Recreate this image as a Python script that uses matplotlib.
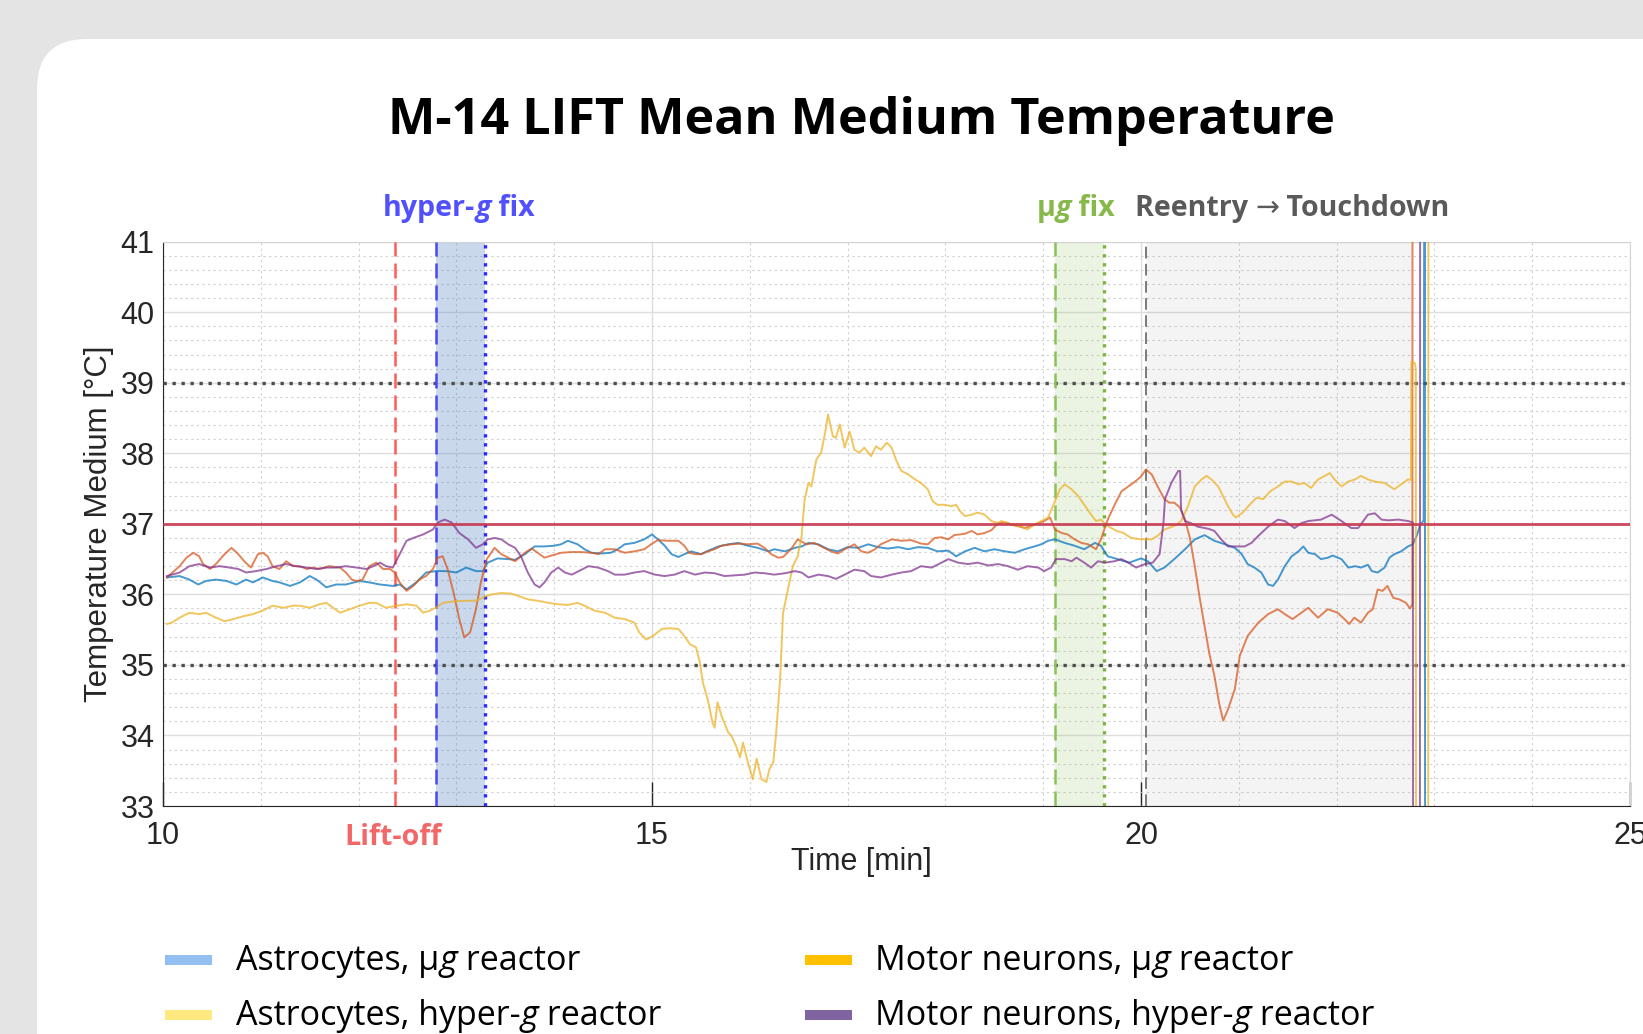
import matplotlib
matplotlib.use("Agg")
import matplotlib.pyplot as plt
from matplotlib.patches import FancyBboxPatch, Rectangle
from matplotlib.transforms import IdentityTransform
from matplotlib.ticker import MultipleLocator

W, H = 1643, 1034

# --- data (time in min, temperature in degC) ---
t_astro_ug = [10.04, 10.17, 10.27, 10.36, 10.44, 10.54, 10.65, 10.75, 10.85, 10.92,
              11.02, 11.12, 11.19, 11.30, 11.40, 11.50, 11.57, 11.67, 11.77, 11.87,
              12.01, 12.11, 12.22, 12.35, 12.42, 12.49, 12.59, 12.69, 12.79, 12.90,
              13.00, 13.10, 13.20, 13.27, 13.32, 13.42, 13.53, 13.60, 13.70, 13.80,
              13.90, 14.00, 14.07, 14.14, 14.24, 14.31, 14.38, 14.48, 14.58, 14.65,
              14.72, 14.82, 14.92, 15.00, 15.06, 15.13, 15.20, 15.27, 15.33, 15.40,
              15.50, 15.61, 15.68, 15.78, 15.88, 15.98, 16.08, 16.19, 16.25, 16.36,
              16.46, 16.53, 16.60, 16.70, 16.80, 16.90, 17.00, 17.11, 17.21, 17.31,
              17.41, 17.52, 17.62, 17.72, 17.82, 17.92, 18.03, 18.11, 18.20, 18.30,
              18.40, 18.50, 18.61, 18.71, 18.81, 18.91, 18.98, 19.05, 19.12, 19.22,
              19.32, 19.42, 19.53, 19.59, 19.66, 19.76, 19.88, 20.00, 20.07, 20.16,
              20.24, 20.34, 20.45, 20.55, 20.65, 20.75, 20.86, 20.96, 21.03, 21.09,
              21.16, 21.23, 21.30, 21.35, 21.40, 21.47, 21.54, 21.61, 21.66, 21.71,
              21.78, 21.84, 21.91, 21.96, 22.05, 22.12, 22.19, 22.25, 22.32, 22.36,
              22.42, 22.49, 22.54, 22.59, 22.66, 22.73, 22.78, 22.82, 22.85, 22.89,
              22.902, 22.906]
v_astro_ug = [36.24, 36.26, 36.21, 36.14, 36.19, 36.21, 36.19, 36.14, 36.21, 36.17,
              36.24, 36.19, 36.17, 36.12, 36.17, 36.26, 36.21, 36.10, 36.14, 36.14,
              36.19, 36.17, 36.14, 36.12, 36.14, 36.07, 36.17, 36.31, 36.33, 36.33,
              36.31, 36.38, 36.33, 36.33, 36.45, 36.51, 36.50, 36.49, 36.57, 36.68,
              36.68, 36.69, 36.71, 36.76, 36.71, 36.64, 36.59, 36.58, 36.59, 36.64,
              36.71, 36.73, 36.78, 36.85, 36.78, 36.69, 36.57, 36.53, 36.57, 36.61,
              36.57, 36.64, 36.68, 36.71, 36.73, 36.69, 36.66, 36.61, 36.64, 36.61,
              36.66, 36.68, 36.73, 36.71, 36.64, 36.61, 36.67, 36.66, 36.71, 36.67,
              36.65, 36.67, 36.64, 36.67, 36.66, 36.61, 36.62, 36.54, 36.61, 36.66,
              36.61, 36.64, 36.61, 36.59, 36.64, 36.68, 36.71, 36.76, 36.78, 36.73,
              36.69, 36.64, 36.73, 36.69, 36.54, 36.50, 36.45, 36.51, 36.47, 36.33,
              36.38, 36.50, 36.64, 36.78, 36.84, 36.76, 36.71, 36.66, 36.57, 36.43,
              36.38, 36.31, 36.14, 36.12, 36.21, 36.40, 36.54, 36.61, 36.68, 36.59,
              36.57, 36.50, 36.52, 36.55, 36.50, 36.38, 36.40, 36.38, 36.42, 36.33,
              36.31, 36.38, 36.52, 36.57, 36.61, 36.68, 36.71, 36.83, 36.97, 37.05,
              45.0, 25.0]

t_astro_hg = [10.04, 10.17, 10.24, 10.31, 10.37, 10.41, 10.48, 10.54, 10.63, 10.70,
              10.77, 10.83, 10.90, 10.97, 11.02, 11.07, 11.12, 11.19, 11.26, 11.33,
              11.40, 11.47, 11.53, 11.60, 11.70, 11.81, 11.87, 11.93, 11.98, 12.04,
              12.11, 12.18, 12.25, 12.32, 12.37, 12.42, 12.49, 12.56, 12.62, 12.69,
              12.76, 12.81, 12.86, 12.91, 12.97, 13.03, 13.08, 13.14, 13.20, 13.25,
              13.31, 13.39, 13.46, 13.53, 13.60, 13.70, 13.77, 13.83, 13.90, 13.97,
              14.07, 14.17, 14.28, 14.38, 14.45, 14.52, 14.62, 14.72, 14.82, 14.92,
              14.99, 15.06, 15.16, 15.27, 15.33, 15.38, 15.44, 15.50, 15.57, 15.64,
              15.71, 15.81, 15.91, 15.98, 16.08, 16.15, 16.22, 16.29, 16.34, 16.42,
              16.49, 16.58, 16.66, 16.73, 16.83, 16.90, 16.97, 17.07, 17.14, 17.21,
              17.28, 17.34, 17.45, 17.55, 17.65, 17.75, 17.82, 17.89, 17.96, 18.03,
              18.09, 18.20, 18.27, 18.33, 18.40, 18.47, 18.54, 18.61, 18.71, 18.81,
              18.91, 19.01, 19.07, 19.12, 19.19, 19.25, 19.32, 19.39, 19.46, 19.54,
              19.59, 19.66, 19.73, 19.80, 19.87, 19.94, 20.00, 20.05, 20.11, 20.17,
              20.24, 20.29, 20.34, 20.40, 20.45, 20.50, 20.55, 20.60, 20.65, 20.70,
              20.75, 20.80, 20.84, 20.89, 20.96, 21.01, 21.09, 21.20, 21.30, 21.40,
              21.47, 21.55, 21.64, 21.71, 21.81, 21.91, 22.01, 22.08, 22.13, 22.18,
              22.25, 22.32, 22.37, 22.42, 22.47, 22.52, 22.58, 22.64, 22.71, 22.75,
              22.775, 22.777]
v_astro_hg = [36.24, 36.40, 36.52, 36.59, 36.54, 36.43, 36.36, 36.43, 36.57, 36.66,
              36.57, 36.47, 36.38, 36.57, 36.59, 36.54, 36.40, 36.36, 36.47, 36.40,
              36.40, 36.36, 36.38, 36.36, 36.40, 36.38, 36.31, 36.21, 36.19, 36.21,
              36.40, 36.45, 36.36, 36.36, 36.31, 36.17, 36.05, 36.12, 36.21, 36.26,
              36.36, 36.52, 36.54, 36.36, 36.03, 35.65, 35.39, 35.46, 35.79, 36.17,
              36.50, 36.66, 36.57, 36.52, 36.47, 36.59, 36.65, 36.59, 36.52, 36.55,
              36.59, 36.60, 36.60, 36.59, 36.57, 36.64, 36.64, 36.59, 36.61, 36.64,
              36.71, 36.77, 36.76, 36.76, 36.69, 36.59, 36.57, 36.57, 36.61, 36.64,
              36.69, 36.71, 36.72, 36.71, 36.72, 36.66, 36.57, 36.52, 36.53, 36.64,
              36.78, 36.71, 36.73, 36.68, 36.61, 36.58, 36.64, 36.71, 36.61, 36.59,
              36.64, 36.71, 36.78, 36.76, 36.77, 36.72, 36.71, 36.80, 36.81, 36.78,
              36.84, 36.86, 36.90, 36.85, 36.87, 36.91, 37.01, 37.02, 36.98, 36.94,
              36.99, 37.04, 37.09, 36.92, 36.87, 36.85, 36.78, 36.73, 36.71, 36.64,
              36.78, 37.06, 37.27, 37.46, 37.53, 37.60, 37.67, 37.77, 37.70, 37.53,
              37.35, 37.30, 37.30, 37.23, 37.06, 36.80, 36.40, 35.95, 35.55, 35.15,
              34.85, 34.45, 34.21, 34.37, 34.66, 35.13, 35.41, 35.60, 35.72, 35.79,
              35.72, 35.65, 35.74, 35.81, 35.67, 35.79, 35.74, 35.65, 35.58, 35.67,
              35.60, 35.74, 35.79, 36.07, 36.05, 36.12, 35.95, 35.93, 35.88, 35.80,
              35.86, 45.0]

t_mn_ug = [10.04, 10.09, 10.17, 10.27, 10.37, 10.44, 10.54, 10.63, 10.72, 10.82,
           10.92, 11.02, 11.12, 11.23, 11.33, 11.40, 11.50, 11.60, 11.67, 11.74,
           11.81, 11.91, 12.01, 12.11, 12.18, 12.28, 12.39, 12.49, 12.59, 12.66,
           12.73, 12.79, 12.86, 12.97, 13.10, 13.20, 13.31, 13.36, 13.46, 13.56,
           13.63, 13.73, 13.83, 13.94, 14.04, 14.14, 14.24, 14.31, 14.41, 14.52,
           14.62, 14.72, 14.82, 14.87, 14.94, 15.01, 15.10, 15.18, 15.27, 15.33,
           15.39, 15.45, 15.49, 15.52, 15.57, 15.62, 15.64, 15.67, 15.71, 15.78,
           15.81, 15.86, 15.90, 15.93, 15.98, 16.03, 16.07, 16.12, 16.17, 16.20,
           16.24, 16.27, 16.31, 16.34, 16.39, 16.44, 16.49, 16.53, 16.56, 16.60,
           16.63, 16.68, 16.73, 16.77, 16.80, 16.85, 16.88, 16.92, 16.97, 17.02,
           17.07, 17.12, 17.17, 17.24, 17.29, 17.34, 17.40, 17.45, 17.50, 17.55,
           17.62, 17.69, 17.75, 17.82, 17.87, 17.92, 17.99, 18.06, 18.11, 18.15,
           18.20, 18.27, 18.33, 18.40, 18.47, 18.54, 18.57, 18.64, 18.71, 18.78,
           18.84, 18.91, 18.98, 19.05, 19.12, 19.17, 19.22, 19.29, 19.36, 19.42,
           19.49, 19.54, 19.59, 19.66, 19.75, 19.82, 19.90, 20.00, 20.11, 20.17,
           20.24, 20.34, 20.41, 20.48, 20.55, 20.62, 20.67, 20.72, 20.79, 20.84,
           20.89, 20.94, 20.97, 21.04, 21.11, 21.18, 21.25, 21.32, 21.40, 21.47,
           21.54, 21.61, 21.67, 21.74, 21.81, 21.88, 21.93, 21.98, 22.05, 22.12,
           22.19, 22.25, 22.32, 22.39, 22.49, 22.59, 22.66, 22.73, 22.76, 22.765,
           22.80, 22.81, 22.815, 22.935, 22.94]
v_mn_ug = [35.58, 35.60, 35.67, 35.74, 35.72, 35.74, 35.67, 35.62, 35.65, 35.69,
           35.72, 35.77, 35.84, 35.81, 35.84, 35.84, 35.81, 35.86, 35.88, 35.81,
           35.74, 35.79, 35.84, 35.88, 35.88, 35.81, 35.84, 35.86, 35.84, 35.74,
           35.77, 35.81, 35.88, 35.90, 35.91, 35.91, 35.98, 36.00, 36.02, 36.01,
           35.98, 35.93, 35.91, 35.88, 35.86, 35.85, 35.88, 35.84, 35.77, 35.74,
           35.67, 35.65, 35.60, 35.46, 35.36, 35.41, 35.51, 35.52, 35.51, 35.41,
           35.29, 35.25, 35.03, 34.75, 34.51, 34.18, 34.11, 34.47, 34.28, 34.04,
           34.00, 33.85, 33.69, 33.90, 33.62, 33.38, 33.67, 33.38, 33.34, 33.52,
           33.62, 34.04, 34.80, 35.74, 36.07, 36.40, 36.54, 36.83, 37.34, 37.58,
           37.53, 37.91, 38.01, 38.29, 38.55, 38.24, 38.22, 38.41, 38.08, 38.31,
           38.05, 38.01, 38.08, 37.96, 38.10, 38.05, 38.15, 38.08, 37.89, 37.75,
           37.70, 37.63, 37.58, 37.49, 37.32, 37.27, 37.27, 37.25, 37.27, 37.18,
           37.11, 37.13, 37.16, 37.13, 37.04, 37.01, 37.04, 37.01, 36.97, 36.97,
           36.92, 36.99, 37.04, 37.09, 37.32, 37.49, 37.56, 37.49, 37.39, 37.27,
           37.13, 37.04, 37.06, 36.97, 36.90, 36.87, 36.80, 36.78, 36.78, 36.83,
           36.92, 36.97, 37.04, 37.25, 37.53, 37.63, 37.68, 37.63, 37.53, 37.39,
           37.25, 37.13, 37.09, 37.16, 37.27, 37.37, 37.35, 37.46, 37.53, 37.60,
           37.60, 37.56, 37.58, 37.51, 37.63, 37.68, 37.72, 37.63, 37.53, 37.60,
           37.63, 37.68, 37.63, 37.60, 37.58, 37.49, 37.56, 37.63, 37.62, 39.30,
           39.28, 39.20, 25.0, 25.0, 45.0]

t_mn_hg = [10.04, 10.17, 10.27, 10.37, 10.48, 10.58, 10.68, 10.77, 10.85, 10.95,
           11.06, 11.16, 11.26, 11.36, 11.47, 11.57, 11.67, 11.77, 11.87, 11.98,
           12.08, 12.15, 12.22, 12.28, 12.35, 12.42, 12.49, 12.56, 12.66, 12.76,
           12.81, 12.88, 12.95, 13.03, 13.12, 13.20, 13.27, 13.32, 13.39, 13.46,
           13.53, 13.60, 13.66, 13.73, 13.80, 13.85, 13.90, 13.97, 14.04, 14.11,
           14.18, 14.28, 14.35, 14.45, 14.55, 14.62, 14.72, 14.82, 14.92, 15.03,
           15.13, 15.23, 15.33, 15.44, 15.54, 15.64, 15.74, 15.85, 15.95, 16.05,
           16.15, 16.25, 16.36, 16.46, 16.53, 16.60, 16.70, 16.80, 16.88, 16.97,
           17.07, 17.17, 17.24, 17.34, 17.45, 17.55, 17.65, 17.75, 17.86, 17.96,
           18.03, 18.13, 18.23, 18.33, 18.44, 18.54, 18.64, 18.74, 18.84, 18.95,
           19.01, 19.08, 19.13, 19.22, 19.29, 19.34, 19.42, 19.49, 19.56, 19.63,
           19.73, 19.80, 19.87, 19.95, 20.04, 20.12, 20.19, 20.23, 20.245, 20.31,
           20.38, 20.40, 20.41, 20.45, 20.51, 20.58, 20.69, 20.75, 20.82, 20.89,
           20.97, 21.06, 21.13, 21.20, 21.30, 21.40, 21.47, 21.57, 21.64, 21.71,
           21.84, 21.95, 22.05, 22.15, 22.22, 22.32, 22.39, 22.46, 22.53, 22.63,
           22.73, 22.78, 22.785, 22.85, 22.855]
v_mn_hg = [36.26, 36.31, 36.40, 36.43, 36.38, 36.40, 36.38, 36.36, 36.31, 36.33,
           36.36, 36.40, 36.43, 36.40, 36.38, 36.36, 36.38, 36.38, 36.40, 36.38,
           36.36, 36.40, 36.45, 36.40, 36.38, 36.57, 36.76, 36.80, 36.85, 36.92,
           37.02, 37.06, 37.02, 36.87, 36.78, 36.66, 36.71, 36.78, 36.80, 36.78,
           36.71, 36.66, 36.54, 36.31, 36.14, 36.10, 36.17, 36.31, 36.38, 36.31,
           36.28, 36.35, 36.40, 36.38, 36.33, 36.28, 36.28, 36.31, 36.33, 36.28,
           36.26, 36.28, 36.33, 36.28, 36.31, 36.30, 36.26, 36.27, 36.28, 36.31,
           36.30, 36.28, 36.30, 36.33, 36.31, 36.24, 36.28, 36.26, 36.22, 36.28,
           36.35, 36.33, 36.26, 36.24, 36.28, 36.31, 36.33, 36.40, 36.38, 36.45,
           36.50, 36.45, 36.43, 36.45, 36.41, 36.43, 36.40, 36.35, 36.40, 36.38,
           36.33, 36.38, 36.50, 36.50, 36.47, 36.52, 36.45, 36.38, 36.47, 36.45,
           36.47, 36.50, 36.45, 36.38, 36.43, 36.45, 36.57, 37.02, 37.35, 37.58,
           37.75, 37.75, 37.20, 37.04, 37.01, 36.96, 36.93, 36.90, 36.78, 36.68,
           36.68, 36.68, 36.73, 36.83, 36.96, 37.06, 37.04, 36.94, 37.01, 37.04,
           37.06, 37.13, 37.04, 36.94, 36.94, 37.13, 37.15, 37.06, 37.05, 37.06,
           37.04, 37.02, 25.0, 25.0, 45.0]

series_names = ["Astrocytes, µg reactor", "Astrocytes, hyper-g reactor",
                "Motor neurons, µg reactor", "Motor neurons, hyper-g reactor"]
line_colors = ["#0072BD", "#D95319", "#EDB120", "#7E2F8E"]
legend_colors = ["#93bff2", "#ffe880", "#ffc000", "#8064a2"]

liftoff = 12.37
hyper_fix = (12.79, 13.29)
ug_fix = (19.12, 19.62)
reentry = (20.05, 22.775)

fig = plt.figure(figsize=(W / 100, H / 100), dpi=100, facecolor="#e4e4e4")

# white rounded card
card = FancyBboxPatch((37, -150), 1800, H - 39 + 150,
                      boxstyle="round,pad=0,rounding_size=50",
                      transform=IdentityTransform(), fc="white", ec="none", zorder=-5)
fig.add_artist(card)

ax = fig.add_axes([163 / W, 1 - 806 / H, (1630 - 163) / W, (806 - 241.7) / H])
ax.set_facecolor("white")
ax.set_xlim(10, 25)
ax.set_ylim(33, 41)
ax.set_xticks([10, 15, 20, 25])
ax.set_yticks(range(33, 42))
ax.xaxis.set_minor_locator(MultipleLocator(1))
ax.yaxis.set_minor_locator(MultipleLocator(0.2))
ax.set_axisbelow(True)
ax.grid(which="major", color="#dedede", lw=1.0, ls="-")
ax.grid(which="minor", color="#d0d0d0", lw=0.8, ls=(0, (2, 3)))
ax.tick_params(which="minor", length=0)
ax.tick_params(axis="x", which="major", direction="in", length=17, width=1,
               color="#262626", labelsize=22, pad=11, labelcolor="#262626")
ax.tick_params(axis="y", which="major", length=0, labelsize=22, pad=6, labelcolor="#262626")
for lab in ax.get_xticklabels() + ax.get_yticklabels():
    lab.set_family("Liberation Sans")
for side in ["left", "bottom"]:
    ax.spines[side].set_color("#262626")
for side in ["top", "right"]:
    ax.spines[side].set_color("#d4d4d4")

# phases
ax.axvspan(*hyper_fix, color=(0.3, 0.5, 0.75), alpha=0.3, lw=0, zorder=1)
ax.axvspan(*ug_fix, color=(0.55, 0.75, 0.35), alpha=0.17, lw=0, zorder=1)
ax.axvspan(*reentry, color=(0.5, 0.5, 0.5), alpha=0.085, lw=0, zorder=1)

ax.axhline(39, color="#4d4d4d", lw=2.4, ls=(0, (1, 1.7)), zorder=3)
ax.axhline(35, color="#4d4d4d", lw=2.4, ls=(0, (1, 1.7)), zorder=3)
ax.axvline(liftoff, color="#ff5a5a", lw=1.8, ls=(0, (6, 2.8)), zorder=3)
ax.axvline(hyper_fix[0], color="#4646ff", lw=1.8, ls=(0, (6, 2.8)), zorder=3)
ax.axvline(hyper_fix[1], color="#2a2aff", lw=2.4, ls=(0, (1, 1.7)), zorder=3)
ax.axvline(ug_fix[0], color="#8cc05a", lw=1.8, ls=(0, (6, 2.8)), zorder=3)
ax.axvline(ug_fix[1], color="#78b640", lw=2.4, ls=(0, (1, 1.7)), zorder=3)
ax.axvline(reentry[0], color="#7a7a7a", lw=1.4, ls=(0, (6, 2.8)), zorder=3)

for t, v, c in zip([t_astro_ug, t_astro_hg, t_mn_ug, t_mn_hg],
                   [v_astro_ug, v_astro_hg, v_mn_ug, v_mn_hg], line_colors):
    ax.plot(t, v, color=c, lw=1.4, alpha=0.72, zorder=5)

ax.axhline(37, color="#c8374f", lw=2.0, alpha=0.9, zorder=6)

# --- texts ---
renderer = fig.canvas.get_renderer()


def rich(x, y, parts, **kw):
    # x, y: pixel position of left end / baseline, measured from top-left
    # parts: (text, fontstyle, fontweight)
    for s, style, weight in parts:
        txt = fig.text(x / W, 1 - y / H, s, ha="left", va="baseline",
                       fontstyle=style, fontweight=weight, **kw)
        x += txt.get_window_extent(renderer).width


fig.text(861 / W, 1 - 134 / H, "M-14 LIFT Mean Medium Temperature", ha="center",
         va="baseline", fontsize=36.3, fontweight="bold", family="Open Sans", color="black")

rich(383, 216, [("hyper-", "normal", "bold"), ("g", "italic", "bold"), (" fix", "normal", "bold")],
     fontsize=20.6, family="Open Sans", color="#5050ff")
rich(1037, 216, [("µ", "normal", "bold"), ("g", "italic", "bold"), (" fix", "normal", "bold")],
     fontsize=20.6, family="Open Sans", color="#86b84a")
rich(1135, 216, [("Reentry ", "normal", "bold"), ("→", "normal", "normal"),
                 (" Touchdown", "normal", "bold")],
     fontsize=20.6, family=["Open Sans", "DejaVu Sans"], color="#5a5a5a")
fig.text(344 / W, 1 - 845 / H, "Lift-off", ha="left", va="baseline",
         fontsize=20.6, fontweight="bold", family="Open Sans", color="#f26868")

fig.text(861 / W, 1 - 862 / H, "Time [min]", ha="center", va="center",
         fontsize=22, family="Liberation Sans", color="#262626")
fig.text(99 / W, 1 - 524 / H, "Temperature Medium [°C]", ha="center", va="center",
         rotation=90, fontsize=22.5, family="Liberation Sans", color="#262626")

# legend (manual)
leg_pos = [(165, 960, 236, 970), (165, 1015, 236, 1025),
           (805, 960, 875, 970), (805, 1015, 875, 1025)]
for (px, py, tx, ty), name, col in zip(leg_pos, series_names, legend_colors):
    fig.add_artist(Rectangle((px, H - py - 5), 47, 10, transform=IdentityTransform(),
                             fc=col, ec="none"))
    head, tail = name.split("g reactor")
    rich(tx, ty, [(head, "normal", "normal"), ("g", "italic", "normal"),
                  (" reactor", "normal", "normal")],
         fontsize=24.5, family="Open Sans", color="black")

fig.savefig("out.png", dpi=100, facecolor=fig.get_facecolor())
